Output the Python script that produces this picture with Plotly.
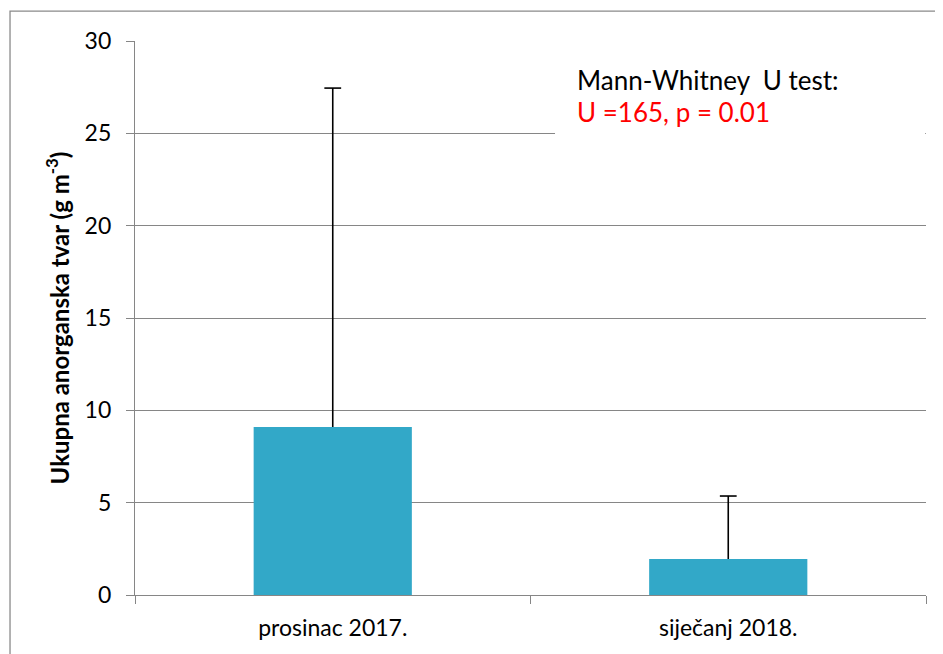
import plotly.graph_objects as go

categories = ["prosinac 2017.", "siječanj 2018."]
means = [9.1, 1.95]
err_plus = [18.35, 3.41]
y_ticks = [0, 5, 10, 15, 20, 25, 30]

grid = "#868686"
font = "Lato"

fig = go.Figure()
fig.add_trace(go.Bar(
    x=categories, y=means,
    marker=dict(color="#32a8c8", line=dict(width=0)),
    showlegend=False, hoverinfo="skip",
))

# one-sided (upper) error bars: stem from bar top to mean + error, cap at top
stem_x, stem_y, cap_y = [], [], []
for c, m, e in zip(categories, means, err_plus):
    stem_x += [c, c, None]
    stem_y += [m, m + e, None]
    cap_y.append(m + e)

fig.add_trace(go.Scatter(x=stem_x, y=stem_y, mode="lines",
                         line=dict(color="black", width=1.6), showlegend=False, hoverinfo="skip"))
fig.add_trace(go.Scatter(x=categories, y=cap_y, mode="markers",
                         marker=dict(symbol="line-ew", size=12, line=dict(color="black", width=1.6)),
                         showlegend=False, hoverinfo="skip"))

fig.update_layout(
    width=935, height=646,
    margin=dict(l=127, r=17, t=33, b=59),
    paper_bgcolor="white", plot_bgcolor="white",
    bargap=0.6,
    font=dict(family=font, color="black"),
    xaxis=dict(showgrid=False, showline=True, linecolor=grid, linewidth=1.3,
               ticks="outside", tickson="boundaries", ticklen=8, tickcolor=grid,
               tickfont=dict(size=23, family=font), ticklabelstandoff=12),
    yaxis=dict(range=[0, 30], tickvals=y_ticks, showgrid=True, gridcolor=grid, gridwidth=1.3,
               showline=True, linecolor=grid, linewidth=1.3, zeroline=False,
               ticks="outside", ticklen=8, tickcolor=grid,
               tickfont=dict(size=23, family=font), ticklabelstandoff=10),
)

# outer chart border (partially cropped)
fig.add_shape(type="rect", xref="paper", yref="paper",
              x0=-0.158, x1=1.3, y0=-0.3, y1=1.054,
              line=dict(color="#8a8a8a", width=1.3), fillcolor="rgba(0,0,0,0)", layer="below")

# white text box covering gridlines
fig.add_shape(type="rect", xref="paper", yref="paper",
              x0=0.531, x1=0.999, y0=0.832, y1=0.99,
              line=dict(width=0), fillcolor="white", layer="above")

fig.add_annotation(xref="paper", yref="paper", x=0.556, y=0.93, xanchor="left", yanchor="middle",
                   text="Mann-Whitney  U test:", showarrow=False,
                   font=dict(size=26, color="black", family=font))
fig.add_annotation(xref="paper", yref="paper", x=0.556, y=0.872, xanchor="left", yanchor="middle",
                   text="U =165, p = 0.01", showarrow=False,
                   font=dict(size=26, color="#ff0000", family=font))

fig.add_annotation(xref="paper", yref="paper", x=-0.098, y=0.5, xanchor="center", yanchor="middle",
                   text="<b>Ukupna anorganska tvar (g m<sup>-3</sup>)</b>", textangle=-90,
                   showarrow=False, font=dict(size=24, color="black", family=font))

fig.write_html("out.html")
